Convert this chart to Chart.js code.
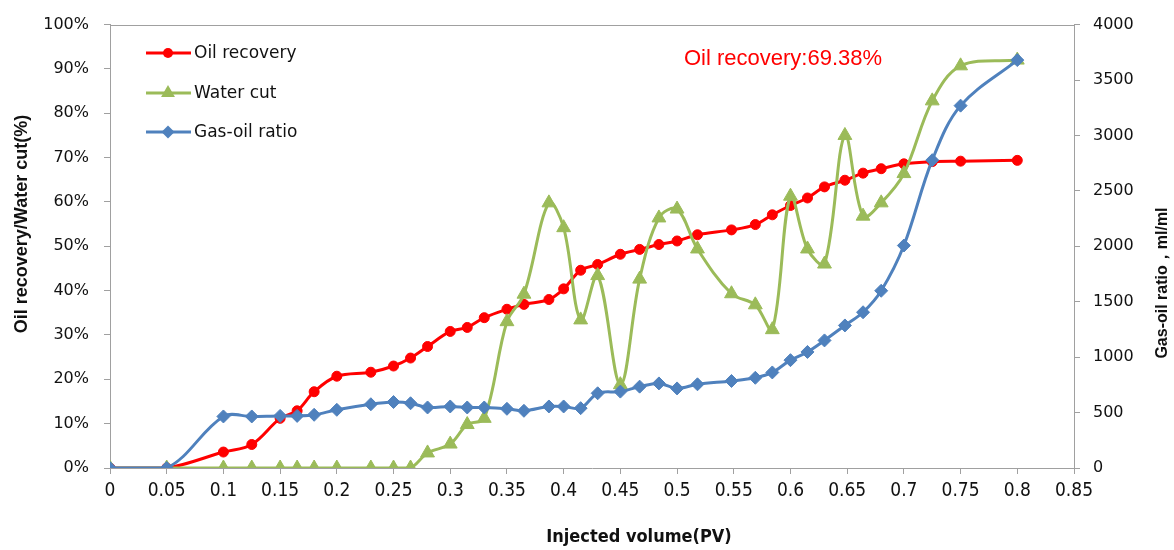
<!DOCTYPE html>
<html>
<head>
<meta charset="utf-8">
<script src="https://cdn.jsdelivr.net/npm/chart.js@4.4.0/dist/chart.umd.min.js"></script>
<style>
  html, body { margin: 0; padding: 0; background: #fff; }
</style>
</head>
<body>
<canvas id="chart" width="1174" height="550"></canvas>
<script>
// Injected volume (PV) at every measurement step
const injected = [0, 0.05, 0.1, 0.125, 0.15, 0.165, 0.18, 0.2, 0.23, 0.25, 0.265, 0.28, 0.3, 0.315, 0.33,
  0.35, 0.365, 0.387, 0.4, 0.415, 0.43, 0.45, 0.467, 0.484, 0.5, 0.518, 0.548, 0.569, 0.584, 0.6,
  0.615, 0.63, 0.648, 0.664, 0.68, 0.7, 0.725, 0.75, 0.8];

// Oil recovery (%)
const oilRecovery = [0, 0, 3.6, 5.3, 11.2, 12.9, 17.2, 20.7, 21.6, 23.0, 24.8, 27.4, 30.8, 31.7, 33.9,
  35.8, 36.9, 38.0, 40.4, 44.6, 45.9, 48.2, 49.3, 50.4, 51.2, 52.6, 53.7, 54.9, 57.1, 59.2,
  60.9, 63.4, 64.9, 66.5, 67.5, 68.6, 69.1, 69.2, 69.38];

// Water cut (%)
const waterCut = [0, 0, 0, 0, 0, 0, 0, 0, 0, 0, 0, 3.4, 5.4, 9.8, 11.2,
  33.0, 39.2, 59.8, 54.2, 33.4, 43.4, 18.8, 42.6, 56.4, 58.4, 49.4, 39.3, 36.8, 31.2, 61.3,
  49.4, 46.0, 75.0, 56.8, 59.8, 66.4, 82.8, 90.7, 92.0];

// Gas-oil ratio (ml/ml), right axis
const gasOilRatio = [0, 0, 465, 465, 470, 470, 480, 525, 575, 595, 584, 546, 555, 546, 546,
  534, 516, 555, 555, 540, 674, 689, 734, 763, 718, 755, 785, 814, 862, 973,
  1047, 1151, 1286, 1405, 1599, 2007, 2777, 3269, 3680];

const seriesNames = ['Oil recovery', 'Water cut', 'Gas-oil ratio'];
const finalRecoveryText = 'Oil recovery:69.38%';

const RED = '#ff0000';
const GREEN = '#9bbb59';
const BLUE = '#4f81bd';
const GREY = '#a0a0a0';
const TICK_FONT = '"DejaVu Sans", Verdana, sans-serif';
const NARROW_FONT = '"Liberation Sans Narrow", "DejaVu Sans Condensed", sans-serif';
const TITLE_FONT = '"Liberation Sans", Arial, sans-serif';

const toPoints = (values) => injected.map((x, i) => ({ x, y: values[i] }));

// Marker drawing shared by the legend
const drawMarker = (ctx, style, x, y, r, color) => {
  ctx.fillStyle = color;
  ctx.beginPath();
  if (style === 'circle') {
    ctx.arc(x, y, r, 0, Math.PI * 2);
  } else if (style === 'triangle') {
    ctx.moveTo(x, y - r);
    ctx.lineTo(x + r * 0.866, y + r * 0.5);
    ctx.lineTo(x - r * 0.866, y + r * 0.5);
    ctx.closePath();
  } else {
    ctx.moveTo(x - r, y);
    ctx.lineTo(x, y - r);
    ctx.lineTo(x + r, y);
    ctx.lineTo(x, y + r);
    ctx.closePath();
  }
  ctx.fill();
};

// Extra pieces Excel drew: top border, legend, note and axis titles
const decorPlugin = {
  id: 'decor',
  beforeDatasetsDraw(chart) {
    const { ctx, chartArea: a } = chart;
    ctx.save();
    ctx.strokeStyle = GREY;
    ctx.lineWidth = 1;
    ctx.beginPath();
    ctx.moveTo(a.left, Math.round(a.top) + 0.5);
    ctx.lineTo(a.right, Math.round(a.top) + 0.5);
    ctx.stroke();
    ctx.restore();
  },
  afterDraw(chart) {
    const { ctx } = chart;
    ctx.save();

    // legend
    const legend = [
      { color: RED, style: 'circle', r: 5, y: 53 },
      { color: GREEN, style: 'triangle', r: 8, y: 93 },
      { color: BLUE, style: 'diamond', r: 6.5, y: 132 }
    ];
    legend.forEach((item, i) => {
      ctx.strokeStyle = item.color;
      ctx.lineWidth = 3;
      ctx.beginPath();
      ctx.moveTo(146, item.y);
      ctx.lineTo(191, item.y);
      ctx.stroke();
      drawMarker(ctx, item.style, 168, item.y, item.r, item.color);
      ctx.fillStyle = '#111';
      ctx.font = '17px ' + TICK_FONT;
      ctx.textAlign = 'left';
      ctx.textBaseline = 'middle';
      ctx.fillText(seriesNames[i], 194, item.y + 1);
    });

    // final recovery note
    ctx.fillStyle = RED;
    ctx.font = '22px ' + TITLE_FONT;
    ctx.textAlign = 'left';
    ctx.textBaseline = 'middle';
    ctx.fillText(finalRecoveryText, 684, 59);

    // axis titles
    ctx.fillStyle = '#111';
    ctx.textAlign = 'center';
    ctx.font = 'bold 18px ' + TITLE_FONT;
    ctx.save();
    ctx.translate(22, 224);
    ctx.rotate(-Math.PI / 2);
    ctx.fillText('Oil recovery/Water cut(%)', 0, 0);
    ctx.restore();

    ctx.save();
    ctx.translate(1163, 283);
    ctx.rotate(-Math.PI / 2);
    ctx.font = 'bold 16px ' + TITLE_FONT;
    ctx.fillText('Gas-oil ratio，ml/ml', 0, 0);
    ctx.restore();

    ctx.font = 'bold 18px ' + NARROW_FONT;
    ctx.fillText('Injected volume(PV)', 639, 537);

    ctx.restore();
  }
};

const axisGrid = {
  drawOnChartArea: false,
  color: GREY,
  tickLength: 6,
  tickColor: GREY
};

new Chart(document.getElementById('chart'), {
  type: 'line',
  data: {
    datasets: [
      {
        label: seriesNames[2],
        data: toPoints(gasOilRatio),
        yAxisID: 'y1',
        borderColor: BLUE,
        backgroundColor: BLUE,
        borderWidth: 3,
        pointStyle: 'rectRot',
        pointRadius: 6.5,
        pointBorderWidth: 1,
        tension: 0.35,
        order: 0
      },
      {
        label: seriesNames[1],
        data: toPoints(waterCut),
        yAxisID: 'y',
        borderColor: GREEN,
        backgroundColor: GREEN,
        borderWidth: 3,
        pointStyle: 'triangle',
        pointRadius: 8,
        pointBorderWidth: 1,
        tension: 0.35,
        order: 1
      },
      {
        label: seriesNames[0],
        data: toPoints(oilRecovery),
        yAxisID: 'y',
        borderColor: RED,
        backgroundColor: RED,
        borderWidth: 3,
        pointStyle: 'circle',
        pointRadius: 5,
        pointBorderWidth: 1,
        tension: 0.35,
        order: 2
      }
    ]
  },
  options: {
    responsive: false,
    animation: false,
    layout: { padding: { top: 21, left: 0, right: 0, bottom: 0 } },
    plugins: {
      legend: { display: false },
      tooltip: { enabled: false }
    },
    scales: {
      x: {
        type: 'linear',
        min: 0,
        max: 0.85,
        grid: axisGrid,
        border: { color: GREY },
        afterFit: (s) => { s.height = 82; },
        ticks: {
          stepSize: 0.05,
          padding: 6,
          color: '#111',
          font: { family: NARROW_FONT, size: 19 },
          maxRotation: 0,
          callback: (v) => +v.toFixed(2) + ''
        }
      },
      y: {
        position: 'left',
        min: 0,
        max: 100,
        grid: axisGrid,
        border: { color: GREY },
        afterFit: (s) => { s.width = 110; },
        ticks: {
          stepSize: 10,
          padding: 15,
          color: '#111',
          font: { family: TICK_FONT, size: 16 },
          callback: (v) => v + '%'
        }
      },
      y1: {
        position: 'right',
        min: 0,
        max: 4000,
        grid: axisGrid,
        border: { color: GREY },
        afterFit: (s) => { s.width = 100; },
        ticks: {
          stepSize: 500,
          padding: 13,
          color: '#111',
          font: { family: TICK_FONT, size: 16 },
          callback: (v) => String(v)
        }
      }
    }
  },
  plugins: [decorPlugin]
});
</script>
</body>
</html>
